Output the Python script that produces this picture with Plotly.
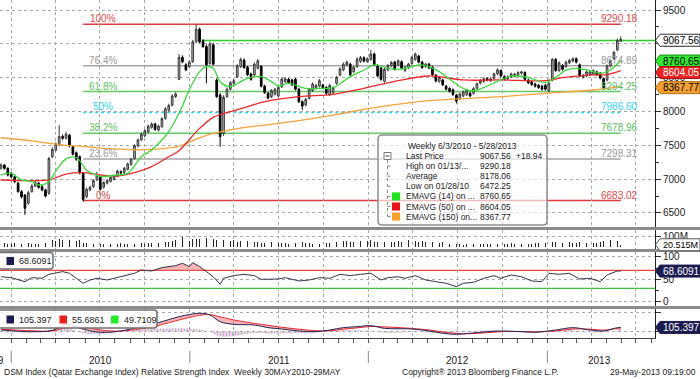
import pandas as pd
import plotly.graph_objects as go
from plotly.subplots import make_subplots

# ---------------- data ----------------
weeks = pd.date_range("2009-12-11", periods=182, freq="7D")

opens = [
    7160, 7210, 7160, 7085, 7035, 6940, 6815, 6765, 6645, 6815,
    6900, 6940, 6890, 6840, 6790, 7330, 7430, 7505, 7630, 7605,
    7650, 7480, 7390, 7330, 7085, 6740, 6840, 6890, 6990, 7035,
    6880, 6940, 6965, 6995, 7045, 7110, 7095, 7145, 7215, 7305,
    7490, 7580, 7640, 7700, 7765, 7815, 7725, 7775, 7900, 8020,
    8095, 8220, 8475, 8800, 8690, 8665, 8735, 9030, 9215, 9045,
    8960, 8710, 8985, 8465, 8245, 7675, 8220, 8330, 8415, 8515,
    8665, 8760, 8655, 8555, 8540, 8640, 8665, 8375, 8270, 8220,
    8255, 8230, 8365, 8440, 8475, 8465, 8475, 8330, 8145, 8095,
    8195, 8310, 8345, 8375, 8390, 8355, 8250, 8280, 8415, 8540,
    8615, 8690, 8700, 8590, 8665, 8740, 8795, 8740, 8770, 8850,
    8680, 8640, 8445, 8615, 8675, 8730, 8690, 8735, 8605, 8645,
    8710, 8770, 8820, 8730, 8665, 8700, 8655, 8535, 8445, 8465,
    8375, 8340, 8320, 8240, 8190, 8230, 8250, 8270, 8270, 8345,
    8420, 8445, 8485, 8455, 8490, 8555, 8605, 8515, 8485, 8515,
    8545, 8535, 8565, 8575, 8465, 8435, 8405, 8385, 8375, 8385,
    8310, 8465, 8770, 8605, 8680, 8665, 8720, 8745, 8780, 8690,
    8505, 8525, 8545, 8555, 8585, 8565, 8485, 8465, 8675, 8780,
    8910, 9040]

closes = [
    7210, 7160, 7060, 7035, 6965, 6815, 6740, 6570, 6800, 6900,
    6950, 6880, 6840, 6750, 7305, 7440, 7520, 7630, 7605, 7665,
    7490, 7370, 7295, 7095, 6700, 6850, 6880, 6980, 7060, 6850,
    6950, 6980, 7025, 7045, 7120, 7095, 7160, 7225, 7295, 7495,
    7580, 7665, 7715, 7785, 7815, 7735, 7785, 7895, 8040, 8090,
    8230, 8260, 8800, 8735, 8615, 8730, 9030, 9215, 9030, 8960,
    8690, 9000, 8700, 8220, 7630, 8210, 8330, 8425, 8455, 8675,
    8770, 8650, 8545, 8475, 8700, 8750, 8375, 8280, 8200, 8310,
    8330, 8355, 8480, 8485, 8425, 8395, 8330, 8145, 8080, 8180,
    8330, 8405, 8385, 8455, 8350, 8270, 8385, 8355, 8505, 8630,
    8700, 8730, 8545, 8655, 8775, 8800, 8745, 8780, 8850, 8690,
    8525, 8475, 8625, 8680, 8725, 8625, 8750, 8640, 8655, 8700,
    8800, 8850, 8730, 8650, 8700, 8645, 8545, 8450, 8505, 8395,
    8330, 8300, 8250, 8155, 8260, 8290, 8315, 8230, 8340, 8410,
    8460, 8485, 8465, 8485, 8555, 8615, 8525, 8475, 8515, 8555,
    8525, 8575, 8585, 8475, 8425, 8400, 8375, 8355, 8330, 8330,
    8415, 8770, 8605, 8720, 8625, 8730, 8755, 8780, 8730, 8525,
    8535, 8585, 8585, 8605, 8545, 8495, 8355, 8675, 8750, 8875,
    9050, 9067.56]

highs = [
    7235, 7225, 7175, 7110, 7050, 6960, 6840, 6780, 6830, 6925,
    6975, 6960, 6910, 6860, 7330, 7470, 7545, 7800, 7660, 7700,
    7670, 7500, 7410, 7350, 7100, 6875, 6905, 7000, 7110, 7050,
    6970, 7000, 7045, 7065, 7140, 7130, 7180, 7245, 7315, 7515,
    7600, 7690, 7740, 7805, 7840, 7835, 7805, 7915, 8065, 8115,
    8255, 8285, 8850, 8830, 8715, 8755, 9060, 9290.18, 9240, 9070,
    8990, 9030, 9010, 8490, 8270, 8240, 8355, 8450, 8480, 8700,
    8795, 8785, 8675, 8575, 8725, 8775, 8685, 8395, 8290, 8330,
    8350, 8375, 8505, 8505, 8495, 8485, 8495, 8350, 8165, 8200,
    8350, 8430, 8410, 8480, 8410, 8375, 8410, 8375, 8525, 8650,
    8725, 8755, 8720, 8675, 8800, 8820, 8815, 8800, 8910, 8870,
    8700, 8660, 8645, 8700, 8745, 8750, 8770, 8755, 8675, 8720,
    8820, 8870, 8840, 8750, 8720, 8720, 8675, 8555, 8525, 8485,
    8395, 8360, 8340, 8260, 8280, 8310, 8335, 8290, 8360, 8430,
    8480, 8505, 8505, 8505, 8575, 8640, 8625, 8535, 8535, 8575,
    8565, 8595, 8605, 8595, 8485, 8455, 8425, 8405, 8395, 8405,
    8435, 8790, 8790, 8740, 8700, 8750, 8775, 8800, 8800, 8710,
    8555, 8605, 8605, 8625, 8605, 8585, 8505, 8695, 8770, 8895,
    9080, 9110]

lows = [
    7140, 7140, 7040, 7010, 6940, 6800, 6715, 6472.25, 6620, 6800,
    6880, 6860, 6820, 6730, 6770, 7310, 7410, 7490, 7580, 7585,
    7470, 7350, 7270, 7070, 6667, 6720, 6820, 6870, 6970, 6830,
    6860, 6920, 6950, 6980, 7030, 7075, 7080, 7130, 7200, 7290,
    7470, 7560, 7620, 7685, 7745, 7715, 7705, 7760, 7880, 8000,
    8075, 8200, 8465, 8715, 8595, 8645, 8720, 9010, 9010, 8940,
    8415, 8690, 8680, 8200, 7480, 7640, 8200, 8310, 8395, 8495,
    8645, 8630, 8525, 8455, 8520, 8620, 8355, 8260, 8180, 8200,
    8235, 8210, 8345, 8420, 8405, 8375, 8310, 8125, 8020, 8075,
    8175, 8290, 8325, 8355, 8330, 8250, 8230, 8260, 8395, 8520,
    8595, 8670, 8525, 8570, 8645, 8720, 8725, 8720, 8750, 8670,
    8505, 8455, 8425, 8595, 8655, 8605, 8670, 8620, 8585, 8625,
    8690, 8750, 8710, 8630, 8645, 8625, 8525, 8430, 8425, 8375,
    8310, 8280, 8230, 8120, 8170, 8210, 8230, 8210, 8250, 8325,
    8400, 8425, 8445, 8435, 8470, 8535, 8505, 8455, 8465, 8495,
    8505, 8515, 8545, 8455, 8405, 8380, 8355, 8335, 8310, 8310,
    8284, 8445, 8585, 8585, 8605, 8645, 8700, 8725, 8710, 8505,
    8485, 8505, 8525, 8535, 8525, 8475, 8318, 8445, 8655, 8760,
    8890, 9030]

volume_m = [
    28, 35, 30, 26, 33, 38, 30, 42, 35, 28, 30, 27, 32, 34,
    60, 65, 58, 70, 62, 55, 66, 60, 52, 64,
    40, 35, 30, 32, 28, 30, 25, 33, 27, 30, 28, 35, 30, 32, 38, 30, 34, 36, 30, 33, 35, 32, 38, 40,
    50, 45, 55,
    62, 135, 95, 60, 58, 70, 72, 75, 68, 85, 70, 72, 68, 80,
    60, 58, 55, 62, 50, 55, 48, 52, 50, 45, 48,
    40, 38, 35, 42, 36, 33, 38, 35, 30, 36, 40, 45, 42, 38, 35, 32, 36, 30, 34, 38, 35,
    45, 42, 48, 52, 55, 50, 46, 58, 52, 48, 55, 60, 50, 45, 52, 48, 56, 50, 45, 53, 48, 58, 62, 50,
    52, 48, 55, 45, 50, 42, 40, 38, 44, 36,
    26, 24, 28, 25, 22, 27, 30, 26, 24, 28, 25, 30, 27, 24, 26, 30,
    32, 30, 35, 28, 33, 30, 35, 32, 30, 34, 36, 33, 38, 42,
    48, 45, 42, 40, 45, 43, 38, 40, 45, 42, 38, 44, 40, 36, 42,
    55, 60, 65, 62, 58, 20.515]

ema14_week = [0, 3, 6, 9, 11, 14, 16, 19, 22, 24, 25, 27, 29, 34, 37, 41, 44, 47, 49, 52,
              55, 58, 60, 62, 64, 67, 70, 72, 76, 79, 81, 84, 89, 94, 97, 102, 106, 109, 113, 116,
              120, 122, 125, 128, 132, 136, 139, 142, 146, 149, 154, 159, 162, 165, 168, 172, 175, 178, 181]
ema14_val = [7062, 7086, 6988, 6963, 6914, 6963, 7120, 7300, 7320, 7200, 7130, 7080, 7040, 7062, 7086, 7332, 7431, 7578, 7702, 7973,
             8318, 8589, 8663, 8638, 8441, 8367, 8441, 8490, 8515, 8441, 8377, 8416, 8343, 8343, 8352, 8515, 8613, 8688, 8638, 8623,
             8663, 8688, 8663, 8589, 8441, 8318, 8318, 8377, 8466, 8525, 8505, 8426, 8505, 8613, 8638, 8604, 8564, 8613, 8760.65]

ema50_week = [0, 9, 14, 19, 24, 29, 34, 39, 44, 49, 52, 58, 62, 67, 72, 77, 87, 97, 106, 116,
              125, 135, 146, 159, 164, 173, 177, 181]
ema50_val = [6988, 6978, 6988, 7075, 7096, 7062, 7047, 7096, 7185, 7332, 7421, 7751, 7914, 7997, 8071, 8145, 8219, 8254, 8343, 8456,
             8525, 8466, 8466, 8456, 8500, 8540, 8545, 8604.05]

ema150_week = [0, 9, 14, 19, 24, 29, 34, 39, 44, 48, 52, 58, 62, 67, 77, 87, 97, 111, 125, 137, 146, 159, 173, 181]
ema150_val = [7612, 7565, 7530, 7500, 7485, 7460, 7445, 7435, 7440, 7455, 7490, 7610, 7675, 7730, 7800, 7864, 7948, 8071,
              8160, 8195, 8219, 8268, 8318, 8367.77]

rsi_week = [0, 3, 7, 9, 12, 14, 18, 20, 22, 24, 26, 28, 31, 33, 35, 37, 39, 41, 44, 47,
            51, 53, 55, 56, 58, 60, 62, 64, 65, 68, 71, 74, 76, 81, 83, 87, 90, 93, 96, 99,
            102, 105, 108, 111, 113, 116, 118, 121, 124, 127, 130, 133, 135, 138, 141, 144, 146, 149, 152, 155,
            158, 160, 163, 166, 169, 172, 175, 177, 180, 181]
rsi_val = [56, 54, 45, 54, 52.5, 61.4, 67.4, 63.7, 52.5, 41.4, 48.8, 52.5, 48.8, 52.5, 56, 60, 63.7, 71, 68.8, 76.3,
           80.7, 85.9, 78.5, 87.4, 78.5, 67.4, 56, 39.2, 52.5, 58.5, 61.4, 58.5, 50.3, 51, 54, 46.6, 48.8, 54, 52.5, 61.4,
           58.5, 61.4, 63.7, 48.8, 54, 56, 52.5, 58.5, 48.8, 45.1, 41.4, 34, 41.4, 43.6, 52.5, 58.5, 52.5, 60, 56, 46.6,
           45.1, 63.7, 61.4, 63.7, 51, 52.5, 45.1, 60, 68.8, 68.6091]

macd_week = [0, 9, 15, 19, 24, 29, 34, 41, 47, 52, 58, 61, 64, 68, 74, 78, 82, 87, 92, 96,
             100, 104, 108, 112, 120, 125, 129, 133, 137, 142, 146, 152, 156, 162, 167, 172, 176, 180, 181]
macd_val = [39, -5, 30, 195, 60, -20, 0, 125, 255, 385, 473, 430, 255, 186, 169, 100, 65, 13, -5, 39,
            100, 125, 152, 82, 65, 13, -47, -73, -47, -5, 13, -5, -20, 39, 100, 39, 13, 100, 105.397]
signal_val = [60, 20, 15, 100, 110, 40, 10, 70, 180, 300, 420, 440, 380, 300, 210, 160, 110, 60, 20, 20,
              60, 95, 130, 120, 80, 40, -10, -50, -55, -30, -5, 0, -10, 15, 65, 60, 35, 75, 55.6861]

fib_pct = ["100%", "76.4%", "61.8%", "50%", "38.2%", "23.6%", "0%"]
fib_val = [9290.18, 8674.89, 8294.25, 7986.60, 7678.96, 7298.31, 6683.02]
trend_level = 9050

price_ticks = [6500, 7000, 7500, 8000, 8500, 9000, 9500]
legend_title = "Weekly 6/3/2010 - 5/28/2013"
stat_labels = ["Last Price", "High on 01/13/...", "Average", "Low on 01/28/10",
               "EMAVG (14) on ...", "EMAVG (50) on ...", "EMAVG (150) on..."]
stat_values = ["9067.56", "9290.18", "8178.06", "6472.25", "8760.65", "8604.05", "8367.77"]
last_change = "+18.94"
last_price = 9067.56
volume_last = 20.515
rsi_last = 68.6091
macd_legend = ["105.397", "55.6861", "49.7109"]
years = ["2009", "2010", "2011", "2012", "2013"]

# ---------------- layout helpers ----------------
FONT = "Liberation Sans, Arial, sans-serif"
W, H = 700, 379
ML, MR, MT, MB = 0, 45, 0, 41
PW, PH = W - ML - MR, H - MT - MB
X0, X1 = "2009-12-09", "2013-08-09"

PANELS = {"main": (0, 227), "vol": (230, 249), "rsi": (252, 306), "macd": (309, 338)}
RANGES = {"main": [6293, 9648], "vol": [-18e6, 155e6], "rsi": [-9, 111], "macd": [-169, 585]}


def px2x(px):
    return (px - ML) / PW


def py2y(py):
    return (PH - (py - MT)) / PH


def dom(p):
    t, b = PANELS[p]
    return [py2y(b), py2y(t)]


def v2py(v, p):
    t, b = PANELS[p]
    lo, hi = RANGES[p]
    return b - (v - lo) / (hi - lo) * (b - t)


def P(x, y):
    return f"{px2x(x):.5f},{py2y(y):.5f}"


def rrect(x0, y0, x1, y1, r):
    return (f"M {P(x0 + r, y0)} L {P(x1 - r, y0)} Q {P(x1, y0)} {P(x1, y0 + r)} "
            f"L {P(x1, y1 - r)} Q {P(x1, y1)} {P(x1 - r, y1)} L {P(x0 + r, y1)} "
            f"Q {P(x0, y1)} {P(x0, y1 - r)} L {P(x0, y0 + r)} Q {P(x0, y0)} {P(x0 + r, y0)} Z")


def wk(i):
    return weeks[i].strftime("%Y-%m-%d")


shapes, ann = [], []


def text(t, px, py, size=9, color="#1a1a1a", anchor="left"):
    ann.append(dict(text=t, xref="paper", yref="paper", x=px2x(px), y=py2y(py),
                    xanchor=anchor, yanchor="middle", showarrow=False,
                    font=dict(family=FONT, size=size, color=color)))


def box(x0, y0, x1, y1, fill, line="rgba(0,0,0,0)", lw=0):
    shapes.append(dict(type="rect", xref="paper", yref="paper", x0=px2x(x0), x1=px2x(x1),
                       y0=py2y(y1), y1=py2y(y0), fillcolor=fill, line=dict(color=line, width=lw),
                       layer="above"))


def tag(label, pyc, bg, fg, border, size=10):
    h = 6
    path = (f"M {P(655.5, pyc)} L {P(660, pyc - h)} L {P(700, pyc - h)} "
            f"L {P(700, pyc + h)} L {P(660, pyc + h)} Z")
    shapes.append(dict(type="path", path=path, xref="paper", yref="paper",
                       fillcolor=bg, line=dict(color=border, width=1), layer="above"))
    text(label, 661, pyc, size=size, color=fg)


# ---------------- figure ----------------
fig = make_subplots(rows=4, cols=1, shared_xaxes=True, vertical_spacing=0)

fig.add_trace(go.Scatter(x=[wk(i) for i in ema150_week], y=ema150_val, mode="lines",
                         line=dict(color="#f2a33a", width=1.3, shape="spline"), hoverinfo="skip"), 1, 1)
fig.add_trace(go.Scatter(x=[wk(i) for i in ema50_week], y=ema50_val, mode="lines",
                         line=dict(color="#e8282b", width=1.3, shape="spline"), hoverinfo="skip"), 1, 1)
fig.add_trace(go.Scatter(x=[wk(i) for i in ema14_week], y=ema14_val, mode="lines",
                         line=dict(color="#3ad83a", width=1.3, shape="spline"), hoverinfo="skip"), 1, 1)
fig.add_trace(go.Candlestick(x=weeks, open=opens, high=highs, low=lows, close=closes,
                             increasing=dict(fillcolor="#b9b9b9", line=dict(color="#3a3a3a", width=1)),
                             decreasing=dict(fillcolor="#000000", line=dict(color="#000000", width=1)),
                             whiskerwidth=0, hoverinfo="skip"), 1, 1)

fig.add_trace(go.Bar(x=weeks, y=[v * 1e6 for v in volume_m], width=1.4 * 86400000,
                     marker=dict(color="#262626", line=dict(width=0)), hoverinfo="skip"), 2, 1)

rx = [wk(i) for i in rsi_week]
fig.add_trace(go.Scatter(x=rx, y=[70] * len(rx), mode="lines", line=dict(width=0), hoverinfo="skip"), 3, 1)
fig.add_trace(go.Scatter(x=rx, y=[max(v, 70) for v in rsi_val], mode="lines", line=dict(width=0),
                         fill="tonexty", fillcolor="rgba(236,120,120,0.55)", hoverinfo="skip"), 3, 1)
fig.add_trace(go.Scatter(x=rx, y=rsi_val, mode="lines", line=dict(color="#34344e", width=1),
                         hoverinfo="skip"), 3, 1)

mx = [wk(i) for i in macd_week]
hist = [m - s for m, s in zip(macd_val, signal_val)]
fig.add_trace(go.Scatter(x=mx, y=hist, mode="lines", line=dict(width=0, shape="spline"), fill="tozeroy",
                         fillpattern=dict(shape="|", fgcolor="#2fd02f", size=3, solidity=0.35),
                         hoverinfo="skip"), 4, 1)
fig.add_trace(go.Scatter(x=mx, y=signal_val, mode="lines", line=dict(color="#e8282b", width=1, shape="spline"),
                         hoverinfo="skip"), 4, 1)
fig.add_trace(go.Scatter(x=mx, y=macd_val, mode="lines", line=dict(color="#23235a", width=1, shape="spline"),
                         fill="tonexty", fillcolor="rgba(240,130,130,0.6)", hoverinfo="skip"), 4, 1)

# axes
for ax in ["xaxis", "xaxis2", "xaxis3", "xaxis4"]:
    fig.layout[ax].update(range=[X0, X1], type="date", showgrid=True, gridcolor="#a9a9a9", griddash="dot",
                          gridwidth=1, dtick="M3", tick0="2010-01-01", showticklabels=False,
                          zeroline=False, showline=False, rangeslider=dict(visible=False), ticks="")
fig.layout.xaxis4.update(ticks="outside", ticklen=4, tickcolor="#555",
                         minor=dict(dtick="M1", tick0="2010-01-01", ticks="outside", ticklen=4,
                                    tickcolor="#555", showgrid=False),
                         showline=True, linecolor="#444", linewidth=1)

ycommon = dict(side="right", showgrid=True, gridcolor="#a9a9a9", griddash="dot", zeroline=False,
               showline=True, linecolor="#222", linewidth=1, ticks="outside", ticklen=5, tickcolor="#333",
               tickfont=dict(family=FONT, size=10, color="#1a1a1a"))
fig.layout.yaxis.update(domain=dom("main"), range=RANGES["main"], tickmode="array", tickvals=price_ticks,
                        ticktext=[str(v) for v in price_ticks],
                        minor=dict(dtick=250, tick0=6500, ticks="outside", ticklen=3, tickcolor="#333",
                                   showgrid=False), **ycommon)
fig.layout.yaxis2.update(domain=dom("vol"), range=RANGES["vol"], tickmode="array", tickvals=[100e6],
                         ticktext=["100M"], **ycommon)
fig.layout.yaxis3.update(domain=dom("rsi"), range=RANGES["rsi"], tickmode="array", tickvals=[0, 50, 100],
                         ticktext=["0", "50", "100"],
                         minor=dict(dtick=25, tick0=0, ticks="outside", ticklen=3, tickcolor="#333",
                                    showgrid=False), **ycommon)
fig.layout.yaxis4.update(domain=dom("macd"), range=RANGES["macd"], tickmode="array", tickvals=[0, 500],
                         ticktext=["", ""], **ycommon)

# ---------------- fib levels ----------------
fib_line_col = ["#e03c3c", "#a3a3a3", "#66c866", "#38d0f0", "#66c866", "#a3a3a3", "#e03c3c"]
fib_text_col = ["#e04848", "#9a9a9a", "#5cbf5c", "#30d4f0", "#5cbf5c", "#9a9a9a", "#e04848"]
for pct, v, lc, tc in zip(fib_pct, fib_val, fib_line_col, fib_text_col):
    shapes.append(dict(type="line", xref="x", yref="y", x0=wk(24), x1=wk(181), y0=v, y1=v, layer="below",
                       line=dict(color=lc, width=1.5, dash="dot" if pct == "50%" else "solid")))
    ann.append(dict(text=pct, xref="paper", yref="y", x=px2x(103), y=v, yshift=5.5, xanchor="center",
                    yanchor="middle", showarrow=False, font=dict(family=FONT, size=10, color=tc)))
    ann.append(dict(text=f"{v:.2f}", xref="paper", yref="y", x=px2x(640), y=v, yshift=5.5, xanchor="right",
                    yanchor="middle", showarrow=False, font=dict(family=FONT, size=10, color=tc)))
shapes.append(dict(type="line", xref="x", yref="y", x0=wk(59), x1=X1, y0=trend_level, y1=trend_level,
                   layer="below", line=dict(color="#33cc33", width=1.5)))

# RSI guide lines
shapes.append(dict(type="line", xref="paper", yref="y3", x0=0, x1=1, y0=70, y1=70, layer="below",
                   line=dict(color="#e84040", width=1.2)))
shapes.append(dict(type="line", xref="paper", yref="y3", x0=0, x1=1, y0=30, y1=30, layer="below",
                   line=dict(color="#40c040", width=1.2)))

# panel separators
for py in (228.5, 250.5, 307.5):
    box(0, py - 1.5, 700, py + 1.5, "#8c8c8c")

# ---------------- main legend box ----------------
shapes.append(dict(type="path", path=rrect(378, 135, 547, 225, 4), xref="paper", yref="paper",
                   fillcolor="rgba(255,255,255,0.65)", line=dict(color="#8f8f8f", width=1.5), layer="above"))
text(legend_title, 406, 146, size=8.5)
row_y = [156 + 10.1 * k for k in range(7)]
for lab, val, ry in zip(stat_labels, stat_values, row_y):
    text(lab, 404, ry, size=8.5)
    text(val, 478, ry, size=8.5)
text(last_change, 514, row_y[0], size=8.5)
# tree glyph
box(384, 152.5, 391, 159.5, "white", "#777", 1)
shapes.append(dict(type="line", xref="paper", yref="paper", x0=px2x(385.5), x1=px2x(389.5),
                   y0=py2y(156), y1=py2y(156), line=dict(color="#444", width=1), layer="above"))
shapes.append(dict(type="line", xref="paper", yref="paper", x0=px2x(387.5), x1=px2x(387.5),
                   y0=py2y(160), y1=py2y(row_y[-1]), line=dict(color="#888", width=1, dash="dot"), layer="above"))
for ry in row_y[1:]:
    shapes.append(dict(type="line", xref="paper", yref="paper", x0=px2x(387.5), x1=px2x(390.5),
                       y0=py2y(ry), y1=py2y(ry), line=dict(color="#888", width=1), layer="above"))
for ry, c in zip(row_y[4:], ["#19e619", "#ee1111", "#ffa020"]):
    box(392, ry - 4, 400, ry + 4, c)

# ---------------- lower-panel legend boxes ----------------
shapes.append(dict(type="path", path=rrect(-3, 252.5, 53, 269, 3), xref="paper", yref="paper",
                   fillcolor="rgba(255,255,255,0.85)", line=dict(color="#707070", width=1.5), layer="above"))
box(6.5, 257, 14, 265, "#1c1c50")
text(f"{rsi_last:.4f}", 17, 261, size=9)

shapes.append(dict(type="path", path=rrect(-3, 310, 157, 328, 3), xref="paper", yref="paper",
                   fillcolor="rgba(255,255,255,0.85)", line=dict(color="#707070", width=1.5), layer="above"))
for (sx, tx), c, lab in zip([(6.5, 17), (59.5, 70), (111, 122)], ["#1c1c50", "#ee1c1c", "#22ee22"], macd_legend):
    box(sx, 315.5, sx + 7.5, 323.5, c)
    text(lab, tx, 319.5, size=9)

# ---------------- right value tags ----------------
main_tags = [(stat_values[0], last_price, "white", "#000", "#333"),
             (stat_values[4], ema14_val[-1], "#2ee82e", "#000", "#1a8a1a"),
             (stat_values[5], ema50_val[-1], "#ee2020", "#fff", "#a01010"),
             (stat_values[6], ema150_val[-1], "#f5a030", "#000", "#b07010")]
prev = -100
for lab, v, bg, fg, bd in main_tags:
    pyc = max(v2py(v, "main") + 1, prev + 11.5)
    prev = pyc
    tag(lab, pyc, bg, fg, bd)
tag(f"{volume_last:.3f}M", v2py(volume_last * 1e6, "vol"), "white", "#000", "#555", size=9)
tag(f"{rsi_last:.4f}", v2py(rsi_last, "rsi"), "#1c1c50", "#fff", "#1c1c50")
tag(macd_legend[0], v2py(macd_val[-1], "macd"), "#1c1c50", "#fff", "#1c1c50")

# ---------------- x-axis year labels & footer ----------------
year_pos = ["2010-07-02", "2011-07-02", "2012-07-01", "2013-04-18"]
ann.append(dict(text=years[0], xref="paper", yref="paper", x=px2x(5.5), y=py2y(360), xanchor="right",
                yanchor="middle", showarrow=False, font=dict(family=FONT, size=10, color="#1a1a1a")))
for y_txt, pos in zip(years[1:], year_pos):
    ann.append(dict(text=y_txt, xref="x4", yref="paper", x=pos, y=py2y(360), xanchor="center",
                    yanchor="middle", showarrow=False, font=dict(family=FONT, size=10, color="#1a1a1a")))
for ys in ["2010-01-01", "2011-01-01", "2012-01-01", "2013-01-01"]:
    shapes.append(dict(type="line", xref="x4", yref="paper", x0=ys, x1=ys, y0=py2y(363), y1=py2y(351),
                       line=dict(color="#8a8a8a", width=1)))

text("DSM Index (Qatar Exchange Index) Relative Strength Index\u00a0\u00a0Weekly 30MAY2010-29MAY",
     2, 372.5, size=8.5, color="#222")
text("Copyright\u00ae 2013 Bloomberg Finance L.P.", 400, 372.5, size=8.5, color="#222")
text("29-May-2013 09:19:00", 698, 372.5, size=8.5, color="#222", anchor="right")

fig.update_layout(width=W, height=H, margin=dict(l=ML, r=MR, t=MT, b=MB), paper_bgcolor="white",
                  plot_bgcolor="white", showlegend=False, shapes=shapes, annotations=ann,
                  font=dict(family=FONT, size=10, color="#222"), bargap=0)

fig.write_html("out.html", config={"displayModeBar": False, "staticPlot": True},
               post_script="document.body.style.margin='0';document.body.style.padding='0';"
                           "document.body.style.overflow='hidden';")
